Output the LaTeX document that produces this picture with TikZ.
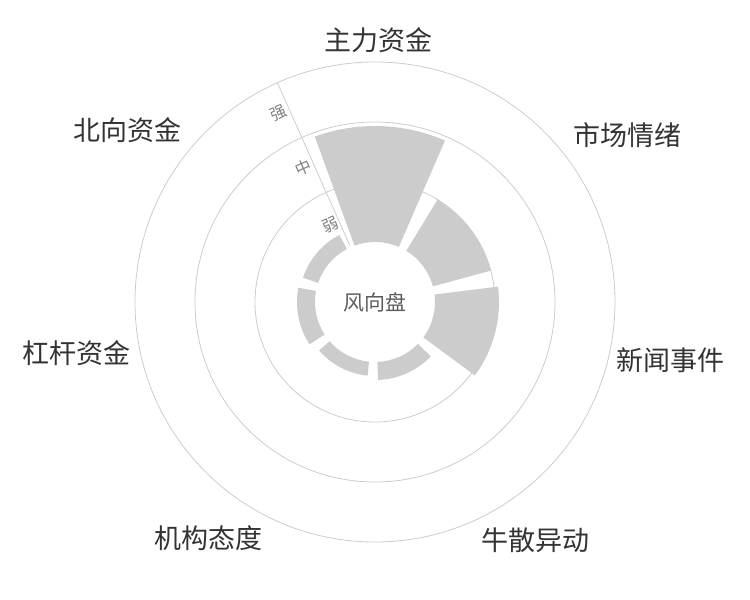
\documentclass[tikz,border=0pt]{standalone}
\usepackage{fontspec}
\setmainfont{Noto Sans CJK SC}
\usetikzlibrary{positioning}
\definecolor{ringgray}{HTML}{CCCCCC}
\definecolor{txtgray}{HTML}{333333}
\tikzset{
ring/.style={draw=ringgray, line width=0.8pt},
bar/.style={fill=ringgray},
catlabel/.style={text=txtgray, font=\fontsize{27}{30}\selectfont},
ticklabel/.style={text=gray, font=\fontsize{16}{18}\selectfont, rotate=24},
}

\begin{document}
\begin{tikzpicture}[x=1pt, y=1pt]
    \useasboundingbox (0,0) rectangle (750,-600);
    \coordinate (o) at (375,-302);

    % rings
    \draw[ring] (o) circle[radius=120];
    \draw[ring] (o) circle[radius=180];
    \draw[ring] (o) circle[radius=240];

    % bars: index/outer radius
    \foreach \i/\r in {0/176, 1/120, 2/124, 3/78, 4/74, 5/78, 6/76} {
        \pgfmathsetmacro{\a}{114-51.43*\i-4}
        \pgfmathsetmacro{\b}{114-51.43*(\i+1)+4}
        \fill[bar] ([shift={(\a:60)}]o) arc[start angle=\a, end angle=\b, radius=60]
            -- ([shift={(\b:\r)}]o) arc[start angle=\b, end angle=\a, radius=\r] -- cycle;
    }

    % axis
    \draw[ring] ([shift={(114:62)}]o) coordinate (ax0) -- ([shift={(114:240)}]o) coordinate (ax1);
    \node[ticklabel] (weak) at ([shift={(120:89)}]o) {弱};
    \node[ticklabel] (mid) at ([shift={(118:152)}]o) {中};
    \node[ticklabel] (strong) at ([shift={(117:212)}]o) {强};

    % centre
    \node[text=txtgray!80, font=\fontsize{21}{24}\selectfont] (title) at (o) {风向盘};

    % categories
    \node[catlabel] (c1) at (378,-40) {主力资金};
    \node[catlabel] (c2) at (627,-135) {市场情绪};
    \node[catlabel] (c3) at (670,-360) {新闻事件};
    \node[catlabel] (c4) at (535,-540) {牛散异动};
    \node[catlabel] (c5) at (208,-538) {机构态度};
    \node[catlabel] (c6) at (77,-353) {杠杆资金};
    \node[catlabel] (c7) at (127,-130) {北向资金};
\end{tikzpicture}
\end{document}
